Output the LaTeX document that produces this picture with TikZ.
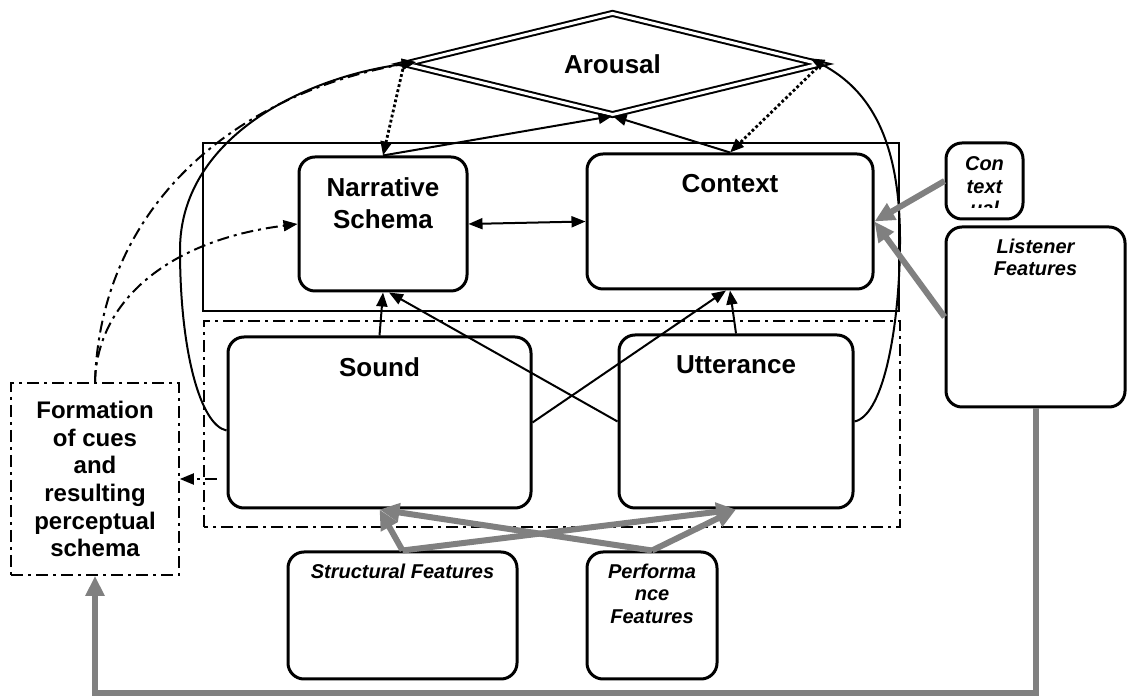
\documentclass[tikz,border=0pt]{standalone}
\usepackage{fontspec}
\setmainfont{Liberation Sans}
\usetikzlibrary{shapes.geometric,arrows.meta}

\definecolor{fgray}{RGB}{128,128,128}

\tikzset{
  >={Triangle[length=7pt,width=5.5pt]},
  box/.style={draw, line width=1.5pt, rounded corners=8pt, inner sep=0pt},
  toplbl/.style={anchor=north, align=center, yshift=-7.5pt, font=\fontsize{13}{16}\selectfont\bfseries},
  featlbl/.style={anchor=north, align=center, yshift=-3pt, font=\fontsize{10}{11.3}\selectfont\bfseries\itshape},
  dashdot/.style={dash pattern=on 6pt off 2.5pt on 1.5pt off 2.5pt},
  link/.style={line width=1pt, ->},
  dotlink/.style={link, line width=1.4pt, dash pattern=on 1.4pt off 1.2pt},
  cuelink/.style={link, dashdot},
  feed/.style={line width=3pt, draw=fgray, -{Triangle[length=10pt,width=9pt]}},
}

\begin{document}
\begin{tikzpicture}[x=0.5pt, y=0.5pt]
  \useasboundingbox (0,0) rectangle (1128,700);

  % frames round the two layers
  \draw[line width=0.8pt] (203,389) rectangle (899,557);
  \draw[line width=1pt, dashdot] (204,173) rectangle (900,379);

  % arousal
  \node[draw, shape=diamond, double, line width=1pt, double distance=1.5pt,
        minimum width=207.5pt, minimum height=51pt, inner sep=0pt, aspect=4,
        font=\fontsize{13}{16}\selectfont\bfseries] (arousal) at (612.5,636) {Arousal};

  % schema boxes
  \node[box, minimum width=84pt, minimum height=67pt, label={[toplbl]north:Narrative\\Schema}] (narr) at (383,476) {};
  \node[box, minimum width=143pt, minimum height=67.5pt, label={[toplbl]north:Context}] (ctx) at (730,478.5) {};
  \node[box, minimum width=151.5pt, minimum height=85.5pt, label={[toplbl]north:Sound}] (sound) at (379.5,277.5) {};
  \node[box, minimum width=117pt, minimum height=86.5pt, label={[toplbl]north:Utterance}] (utt) at (736,278.5) {};

  % cues
  \node[draw, dashdot, line width=0.8pt, minimum width=84pt, minimum height=96pt, align=center,
        font=\fontsize{12}{13.85}\selectfont\bfseries] (form) at (95,221)
        {Formation\\of cues\\and\\resulting\\perceptual\\schema};

  % feature boxes
  \node[box, minimum width=114.5pt, minimum height=63.5pt, label={[featlbl]north:Structural Features}] (struct) at (402.5,84.5) {};
  \node[box, minimum width=65pt, minimum height=63.5pt, label={[featlbl]north:Performa\\nce\\Features}] (perf) at (652,84.5) {};
  \node[box, minimum width=89.5pt, minimum height=90pt, label={[featlbl]north:Listener\\Features}] (lsn) at (1035.5,383) {};
  \node[box, minimum width=38.5pt, minimum height=38pt, path picture={
          \clip ([yshift=5.5pt]path picture bounding box.south west) rectangle (path picture bounding box.north east);
          \node[featlbl, yshift=1pt] at (path picture bounding box.north) {Con\\text\\ual};
        }] (ctxl) at (984.5,519) {};

  % links to arousal
  \draw[link] (narr.north) -- (arousal.south);
  \draw[link] (ctx.north) -- (arousal.south);
  \draw[dotlink] (arousal.west) -- (narr.north);
  \draw[dotlink] (arousal.east) -- (ctx.north);
  \draw[link, shorten >=-6pt] ([yshift=-4pt]sound.west) .. controls (200,275) and (180,350) .. (180,450)
        .. controls (180,560) and (300,622) .. (arousal.west);
  \draw[link, shorten >=-6pt] (utt.east) .. controls (885,285) and (900,380) .. (900,460)
        .. controls (900,560) and (870,610) .. (arousal.east);
  \draw[cuelink, shorten >=-6pt] (form.north) .. controls (100,490) and (230,605) .. (arousal.west);
  \draw[cuelink] (form.north) .. controls (97,400) and (170,460) .. (narr.west);

  % links between the layers
  \draw[line width=1pt, <->] (narr.east) -- (ctx.west);
  \draw[link] (sound.north) -- (narr.south);
  \draw[link] (utt.north) -- (ctx.south);
  \draw[link] (sound.east) -- ([xshift=-2pt]ctx.south);
  \draw[link] (utt.west) -- ([xshift=3pt]narr.south);
  \draw[cuelink] ([xshift=-5pt]sound.west |- form.east) -- (form.east);

  % features
  \draw[feed] (ctxl.west) -- (ctx.east);
  \draw[feed] (lsn.west) -- (ctx.east);
  \draw[feed] (struct.north) -- (sound.south);
  \draw[feed] (struct.north) -- (utt.south);
  \draw[feed] (perf.north) -- (sound.south);
  \draw[feed] (perf.north) -- (utt.south);
  \coordinate (loop) at (95,7);
  \draw[feed] (lsn.south) |- (loop) -- (form.south);
\end{tikzpicture}
\end{document}
